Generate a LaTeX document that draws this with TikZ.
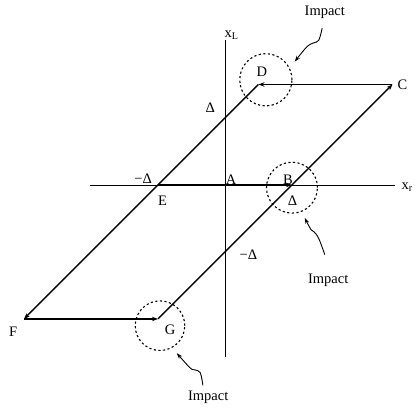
\documentclass[tikz,border=0pt]{standalone}
\usepackage{fontspec}
\setmainfont{Liberation Serif}
\usetikzlibrary{arrows.meta}

\tikzset{
  loopline/.style={line width=1.4pt},
  axisline/.style={line width=0.9pt},
  impactring/.style={line width=1.1pt, dash pattern=on 2.2pt off 2.4pt},
  pointer/.style={line width=0.9pt, -{Stealth[length=6pt,width=4pt]}},
  lbl/.style={inner sep=1pt}
}

\begin{document}
\begin{tikzpicture}[x=67pt, y=67pt, >={Stealth[length=6pt,width=4.5pt]}, font=\fontsize{14.5}{16}\selectfont]
    \useasboundingbox (-3.358,-3.358) rectangle (2.881,2.761);

    % Points of the loop
    \coordinate (A) at (0,0);
    \coordinate (B) at (1,0);
    \coordinate (C) at (2.5,1.5);
    \coordinate (D) at (0.5,1.5);
    \coordinate (E) at (-1,0);
    \coordinate (F) at (-3,-2);
    \coordinate (G) at (-1,-2);

    % Axis ends
    \coordinate (xrL) at (-2.01,0);
    \coordinate (xrR) at (2.54,0);
    \coordinate (xlT) at (0,2.16);
    \coordinate (xlB) at (0,-2.57);

    % Axes
    \draw[axisline] (xrL) -- (xrR);
    \draw[axisline] (xlT) -- (xlB);
    \node[lbl] (xl) at (0.10,2.24) {x$_{\mathrm{L}}$};
    \node[lbl] (xr) at (2.72,-0.03) {x$_{\mathrm{r}}$};

    % The loop
    \draw[loopline, ->] (E) -- (B);
    \draw[loopline, ->] (B) -- (C);
    \draw[loopline, ->] (C) -- (D);
    \draw[loopline, ->] (D) -- (E) -- (F);
    \draw[loopline, ->] (F) -- (G);
    \draw[loopline] (G) -- (B);

    % Point labels
    \node[lbl] (lD) at (0.55,1.69) {D};
    \node[lbl] (lC) at (2.65,1.49) {C};
    \node[lbl] (lA) at (0.09,0.08) {A};
    \node[lbl] (lB) at (0.94,0.08) {B};
    \node[lbl] (lE) at (-0.93,-0.23) {E};
    \node[lbl] (lF) at (-3.16,-2.19) {F};
    \node[lbl] (lG) at (-0.82,-2.16) {G};

    % Delta marks
    \node[lbl] (dU) at (-0.22,1.15) {Δ};
    \node[lbl] (dL) at (-1.22,0.10) {−Δ};
    \node[lbl] (dR) at (1.01,-0.23) {Δ};
    \node[lbl] (dD) at (0.35,-1.04) {−Δ};

    % Impact rings
    \draw[impactring] (0.61,1.57) circle (0.39);
    \draw[impactring] (1.00,-0.04) circle (0.38);
    \draw[impactring] (-0.97,-2.10) circle (0.37);

    % Impact labels and wavy pointers
    \node[lbl] (impT) at (1.49,2.57) {Impact};
    \node[lbl] (impR) at (1.54,-1.42) {Impact};
    \node[lbl] (impB) at (-0.25,-3.17) {Impact};

    \draw[pointer] plot[smooth, tension=0.6] coordinates {(1.45,2.34) (1.40,2.16) (1.32,2.12) (1.22,2.06) (1.04,1.84)};
    \draw[pointer] plot[smooth, tension=0.6] coordinates {(1.49,-1.04) (1.40,-0.80) (1.33,-0.70) (1.28,-0.66) (1.19,-0.49)};
    \draw[pointer] plot[smooth, tension=0.6] coordinates {(-0.33,-2.99) (-0.37,-2.80) (-0.45,-2.76) (-0.52,-2.73) (-0.72,-2.51)};
\end{tikzpicture}
\end{document}
